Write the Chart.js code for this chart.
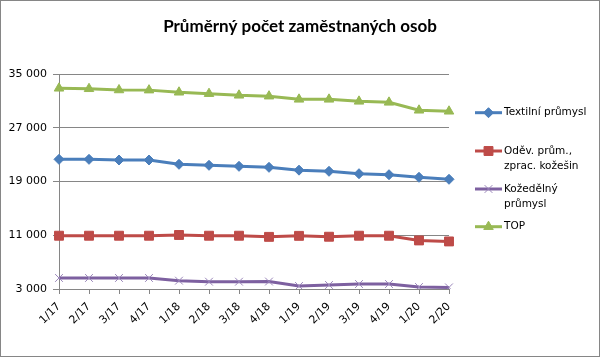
<!DOCTYPE html>
<html><head><meta charset="utf-8">
<script src="https://cdn.jsdelivr.net/npm/chart.js@4"></script>
<style>html,body{margin:0;padding:0;background:#fff}#wrap{width:600px;height:357px;position:relative}</style>
</head><body><div id="wrap"><canvas id="c" width="600" height="357"></canvas></div>
<script>
const categories = ['1/17','2/17','3/17','4/17','1/18','2/18','3/18','4/18','1/19','2/19','3/19','4/19','1/20','2/20'];
const textilni = [22300,22300,22200,22200,21560,21410,21260,21110,20690,20520,20160,20010,19630,19330];
const odev = [10930,10930,10930,10930,11040,10930,10930,10760,10910,10780,10930,10930,10230,10080];
const kozedelny = [4640,4640,4640,4640,4240,4090,4090,4110,3450,3600,3740,3740,3300,3240];
const topSeries = [32870,32800,32620,32600,32280,32070,31830,31700,31230,31230,30930,30780,29600,29450];
const seriesNames = ['Textilní průmysl','Oděv. prům., zprac. kožešin','Kožedělný průmysl','TOP'];
const legendLines = [['Textilní průmysl'],['Oděv. prům.,','zprac. kožešin'],['Kožedělný','průmysl'],['TOP']];
const yTicks = [3000,11000,19000,27000,35000];
const titleText = 'Průměrný počet zaměstnaných osob';

const fmt = v => String(v).replace(/\B(?=(\d{3})+(?!\d))/g, ' ');
const GRID = '#868686';
const FONT = 'DejaVu Sans';

const frame = {
  id: 'frame',
  beforeDraw(chart) {
    const ctx = chart.ctx;
    ctx.save(); ctx.fillStyle = '#fff'; ctx.fillRect(0, 0, chart.width, chart.height); ctx.restore();
  },
  afterDraw(chart) {
    const ctx = chart.ctx;
    ctx.save(); ctx.strokeStyle = GRID; ctx.lineWidth = 1;
    ctx.strokeRect(0.5, 0.5, chart.width - 1, chart.height - 1); ctx.restore();
  }
};

const customLegend = {
  id: 'customLegend',
  afterDraw(chart) {
    const ctx = chart.ctx;
    const rows = [[112.7], [151, 166.7], [189, 204.3], [226.7]];
    chart.data.datasets.forEach((ds, i) => {
      const y0 = rows[i][0];
      ctx.save();
      ctx.strokeStyle = ds.borderColor; ctx.lineWidth = 3;
      ctx.beginPath(); ctx.moveTo(475, y0); ctx.lineTo(502, y0); ctx.stroke();
      ctx.fillStyle = ds.pointBackgroundColor; ctx.strokeStyle = ds.pointBorderColor;
      ctx.lineWidth = ds.pointBorderWidth;
      Chart.helpers.drawPoint(ctx, {pointStyle: ds.pointStyle, radius: ds.pointRadius, borderWidth: ds.pointBorderWidth, rotation: 0}, 488.5, y0);
      ctx.fillStyle = '#000'; ctx.font = '10.5px "' + FONT + '"';
      ctx.textAlign = 'left'; ctx.textBaseline = 'middle';
      legendLines[i].forEach((t, k) => ctx.fillText(t, 504, rows[i][k]));
      ctx.restore();
    });
  }
};

function mk(label, data, color, style, radius, ptBorder, ptBorderW) {
  return {label, data, borderColor: color, backgroundColor: color, borderWidth: 3,
    pointStyle: style, pointRadius: radius, pointBackgroundColor: color,
    pointBorderColor: ptBorder || color, pointBorderWidth: ptBorderW || 1, tension: 0};
}

new Chart(document.getElementById('c'), {
  type: 'line',
  data: {
    labels: categories,
    datasets: [
      mk(seriesNames[0], textilni, '#4A7EBB', 'rectRot', 5),
      mk(seriesNames[1], odev, '#BE4B48', 'rect', 6.3),
      mk(seriesNames[2], kozedelny, '#7D60A0', 'crossRot', 5.5, '#9A86BA', 1),
      mk(seriesNames[3], topSeries, '#98B954', 'triangle', 5.5)
    ]
  },
  options: {
    responsive: false, animation: false,
    layout: {padding: 0},
    plugins: {
      legend: {display: false}, tooltip: {enabled: false},
      title: {display: true, text: titleText, color: '#000',
        font: {family: 'Lato', size: 17, weight: 'bold', lineHeight: 1.2},
        padding: {top: 16, bottom: 37.6}}
    },
    scales: {
      x: {
        offset: false,
        grid: {display: true, drawOnChartArea: false, drawTicks: true, tickLength: 5, color: GRID},
        border: {color: GRID},
        ticks: {maxRotation: 45, minRotation: 45, autoSkip: false, color: '#000', padding: 6,
          font: {family: FONT, size: 11}},
        afterFit(s) { s.height = 68; }
      },
      y: {
        min: 3000, max: 35000,
        afterBuildTicks(s) { s.ticks = yTicks.map(v => ({value: v})); },
        grid: {color: GRID, tickLength: 6},
        border: {color: GRID},
        ticks: {color: '#000', padding: 6, font: {family: FONT, size: 11}, callback: v => fmt(v)},
        afterFit(s) { s.width = 59; }
      },
      yR: {
        position: 'right', display: true,
        grid: {display: false}, border: {display: false}, ticks: {display: false},
        afterFit(s) { s.width = 151; }
      }
    }
  },
  plugins: [frame, customLegend]
});
</script>
</body></html>
